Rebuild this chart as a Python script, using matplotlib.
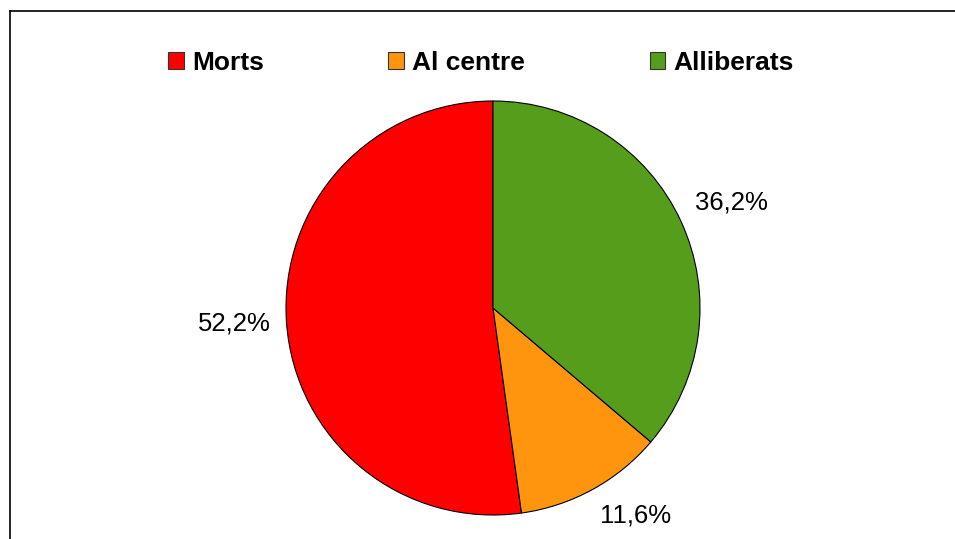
import numpy as np
import matplotlib.pyplot as plt
from matplotlib.patches import Patch
from matplotlib.lines import Line2D

# Dades del gràfic
categories = ["Morts", "Al centre", "Alliberats"]
percentatges = [52.2, 11.6, 36.2]
colors = ["#ff0000", "#ff950e", "#579d1c"]

plt.rcParams['font.family'] = ['Liberation Sans', 'DejaVu Sans']

W, H = 955, 539
fig = plt.figure(figsize=(W / 100, H / 100), dpi=100)

# Marc exterior (només es veuen la vora esquerra i la superior)
fig.add_artist(Line2D([10 / W, 10 / W], [0, 1 - 11 / H], transform=fig.transFigure,
                      color="black", linewidth=1.2))
fig.add_artist(Line2D([10 / W, 1], [1 - 11 / H, 1 - 11 / H], transform=fig.transFigure,
                      color="black", linewidth=1.2))

# Eix del pastís: centre (493, 308), radi 207 px
cx, cy, r = 493, 308, 207
ax = fig.add_axes([(cx - r) / W, (H - cy - r) / H, 2 * r / W, 2 * r / H])
wedges, _ = ax.pie(percentatges, colors=colors, startangle=90, counterclock=True,
                   wedgeprops=dict(edgecolor="black", linewidth=0.8))

# Etiquetes de percentatge ancorades per la cantonada més propera al cercle
for w, p in zip(wedges, percentatges):
    ang = np.deg2rad((w.theta1 + w.theta2) / 2)
    c, s = np.cos(ang), np.sin(ang)
    ha = "left" if c > 0 else "right"
    if abs(s) < 0.3:
        va = "center"
    elif s > 0:
        va = "bottom"
    else:
        va = "top"
    ax.text(1.075 * c, 1.075 * s, f"{p:.1f}%".replace(".", ","),
            ha=ha, va=va, fontsize=18.5)

ax.set_xlim(-1, 1)
ax.set_ylim(-1, 1)
ax.set_aspect("equal")
ax.axis("off")

# Llegenda a dalt
handles = [Patch(facecolor=c, edgecolor="#333333", linewidth=0.8) for c in colors]
fig.legend(handles, categories, loc="center", bbox_to_anchor=(481 / W, 1 - 63 / H),
           ncol=3, frameon=False, prop=dict(size=19, weight="bold"),
           handlelength=0.6, handleheight=0.6, handletextpad=0.3,
           columnspacing=4.72, borderpad=0, borderaxespad=0)

fig.savefig("out.png", dpi=100)
